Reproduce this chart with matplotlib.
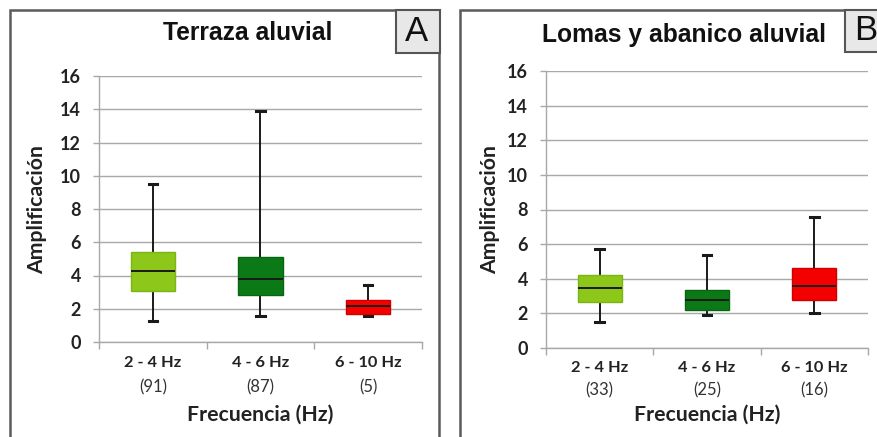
import matplotlib
matplotlib.use("Agg")
import matplotlib.pyplot as plt
from matplotlib.patches import Rectangle

# ---- data ----
categories = ["2 - 4 Hz", "4 - 6 Hz", "6 - 10 Hz"]
colors = ["#8cc71a", "#0b7a16", "#f50000"]
edge_colors = ["#7ab514", "#086612", "#d00000"]

# panel A: Terraza aluvial
a_counts = [91, 87, 5]
a_whislo = [1.27, 1.55, 1.55]
a_q1 = [3.08, 2.81, 1.71]
a_med = [4.28, 3.80, 2.19]
a_q3 = [5.43, 5.09, 2.55]
a_whishi = [9.49, 13.87, 3.42]

# panel B: Lomas y abanico aluvial
b_counts = [33, 25, 16]
b_whislo = [1.50, 1.89, 2.02]
b_q1 = [2.64, 2.18, 2.79]
b_med = [3.49, 2.76, 3.58]
b_q3 = [4.24, 3.33, 4.62]
b_whishi = [5.72, 5.39, 7.57]

yticks = [0, 2, 4, 6, 8, 10, 12, 14, 16]

W, H = 878, 437
fig = plt.figure(figsize=(W / 100, H / 100), dpi=100)

TICKFONT = "Lato"
TITLEFONT = "Liberation Sans"


def px_rect(x0, y0, x1, y1):
    # pixel box (top-left origin) -> figure fraction [l, b, w, h]
    return [x0 / W, (H - y1) / H, (x1 - x0) / W, (y1 - y0) / H]


def panel(rect, whislo, q1, med, q3, whishi, counts, title, letter,
          frame, title_xy, letter_box, lab_off, ylab_x):
    # outer frame
    fx0, fy0, fx1, fy1 = frame
    fig.patches.append(Rectangle((fx0 / W, (H - fy1) / H), (fx1 - fx0) / W,
                                 (fy1 - fy0) / H, transform=fig.transFigure,
                                 fill=False, ec="#5a5a5a", lw=1.8, zorder=0))
    # letter box
    lx0, ly0, lx1, ly1 = letter_box
    fig.patches.append(Rectangle((lx0 / W, (H - ly1) / H), (lx1 - lx0) / W,
                                 (ly1 - ly0) / H, transform=fig.transFigure,
                                 fc="#e8e8e8", ec="#555555", lw=1.5, zorder=1))
    fig.text((lx0 + 21) / W, 1 - (ly0 + ly1) / 2 / H, letter, ha="center",
             va="center", fontsize=25, family=TITLEFONT, color="#111111")
    fig.text(title_xy[0] / W, 1 - title_xy[1] / H, title, ha="center",
             va="center", fontsize=17.7, fontweight="bold", family=TITLEFONT,
             color="#111111")

    ax = fig.add_axes(px_rect(*rect))
    stats = []
    for i in range(len(categories)):
        stats.append(dict(med=med[i], q1=q1[i], q3=q3[i],
                          whislo=whislo[i], whishi=whishi[i], fliers=[]))
    bp = ax.bxp(stats, positions=[1, 2, 3], widths=0.41, patch_artist=True,
                showfliers=False, capwidths=0.08,
                medianprops=dict(color="#1a1a1a", lw=1.4),
                whiskerprops=dict(color="#1a1a1a", lw=1.4),
                capprops=dict(color="#1a1a1a", lw=2.2))
    for b, c, e in zip(bp["boxes"], colors, edge_colors):
        b.set_facecolor(c)
        b.set_edgecolor(e)
        b.set_linewidth(1.0)
        b.set_zorder(3)
    for m in bp["medians"]:
        m.set_zorder(4)

    ax.set_xlim(0.5, 3.5)
    ax.set_ylim(0, 16)
    ax.set_yticks(yticks)
    ax.set_yticklabels([str(t) for t in yticks], fontsize=13,
                       fontweight="bold", family=TICKFONT, color="#222222")
    ax.yaxis.grid(True, color="#a8a8a8", lw=1.0)
    ax.set_axisbelow(True)
    ax.tick_params(axis="y", length=4, color="#a8a8a8", width=1.0, pad=9)
    ax.set_xticks([0.5, 1.5, 2.5, 3.5])
    ax.set_xticklabels([])
    ax.tick_params(axis="x", length=5, color="#a8a8a8", width=1.0)
    for s in ["top", "right"]:
        ax.spines[s].set_visible(False)
    for s in ["left", "bottom"]:
        ax.spines[s].set_color("#a8a8a8")
        ax.spines[s].set_linewidth(1.0)

    tr = ax.get_xaxis_transform()
    hpx = rect[3] - rect[1]
    for i, (cat, n) in enumerate(zip(categories, counts)):
        ax.text(i + 1, -lab_off[0] / hpx, cat, transform=tr, ha="center",
                va="center", fontsize=11.8, fontweight="bold", family=TICKFONT,
                color="#222222")
        ax.text(i + 1, -lab_off[1] / hpx, "(%d)" % n, transform=tr,
                ha="center", va="center", fontsize=12, family=TICKFONT,
                color="#333333")
    ax.text(2, -lab_off[2] / hpx, "Frecuencia (Hz)", transform=tr,
            ha="center", va="center", fontsize=15.3, fontweight="bold",
            family=TICKFONT, color="#222222")
    fig.text(ylab_x / W, 1 - (rect[1] + rect[3]) / 2 / H, "Amplificación",
             rotation=90, ha="center", va="center", fontsize=15.3,
             fontweight="bold", family=TICKFONT, color="#222222")
    return ax


panel((99, 76, 422, 342), a_whislo, a_q1, a_med, a_q3, a_whishi, a_counts,
      "Terraza aluvial", "A", (10, 10, 439, 440), (248, 33),
      (396, 10, 440, 53), (21, 45, 73), 37)
panel((546, 71, 868, 348), b_whislo, b_q1, b_med, b_q3, b_whishi, b_counts,
      "Lomas y abanico aluvial", "B", (460, 10, 882, 440), (684, 35),
      (845, 10, 882, 52), (20, 42, 67), 490)

fig.savefig("out.png", dpi=100)
